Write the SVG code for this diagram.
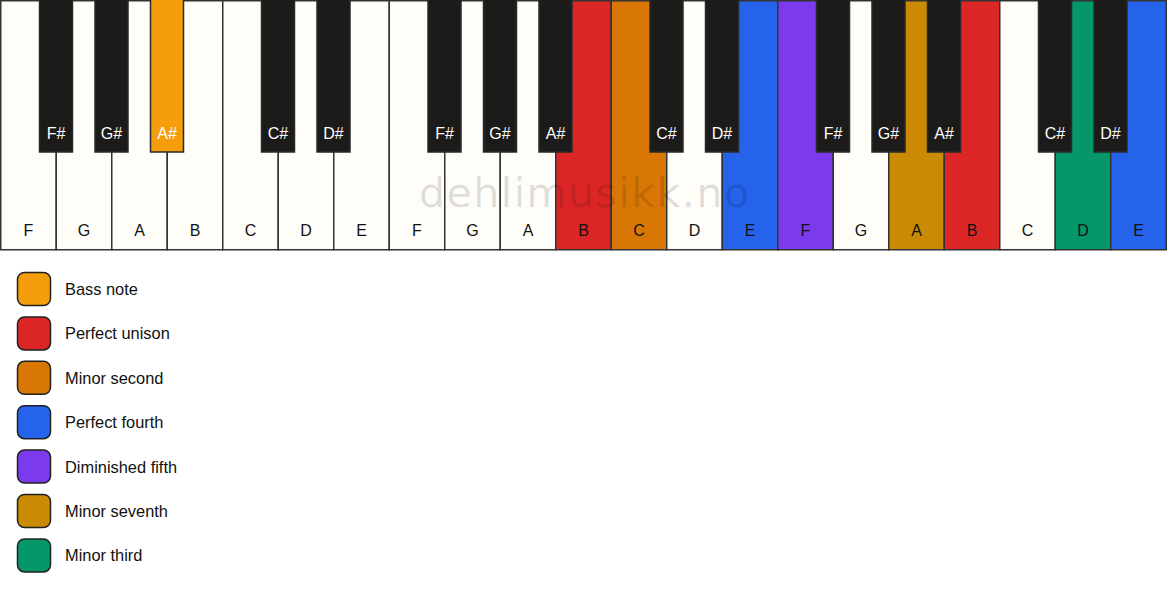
<svg xmlns="http://www.w3.org/2000/svg" width="1167" height="594" viewBox="0 0 1167 594">
<style>
.w{stroke:#333;stroke-width:1.5}
.b{stroke:#2a2a2a;stroke-width:1.5}
.wl{font-family:"Liberation Sans",Arial,sans-serif;font-size:16px;fill:#111;text-anchor:middle}
.bl{font-family:"Liberation Sans",Arial,sans-serif;font-size:16px;fill:#fff;text-anchor:middle}
.lg{stroke:#222;stroke-width:1.5}
.lt{font-family:"Liberation Sans",Arial,sans-serif;font-size:16.4px;fill:#111}
.wm{font-family:"DejaVu Sans","Liberation Sans",sans-serif;font-size:41px;fill:#000;fill-opacity:0.13}
</style>
<rect width="1167" height="594" fill="#fff"/>
<g id="white-keys">
<g id="wk0"><rect class="w" x="0.75" y="0.75" width="55.5" height="249" fill="#FFFDF8"/><text class="wl" x="28.5" y="236">F</text></g>
<g id="wk1"><rect class="w" x="56.25" y="0.75" width="55.5" height="249" fill="#FFFDF8"/><text class="wl" x="84" y="236">G</text></g>
<g id="wk2"><rect class="w" x="111.75" y="0.75" width="55.5" height="249" fill="#FFFDF8"/><text class="wl" x="139.5" y="236">A</text></g>
<g id="wk3"><rect class="w" x="167.25" y="0.75" width="55.5" height="249" fill="#FFFDF8"/><text class="wl" x="195" y="236">B</text></g>
<g id="wk4"><rect class="w" x="222.75" y="0.75" width="55.5" height="249" fill="#FFFDF8"/><text class="wl" x="250.5" y="236">C</text></g>
<g id="wk5"><rect class="w" x="278.25" y="0.75" width="55.5" height="249" fill="#FFFDF8"/><text class="wl" x="306" y="236">D</text></g>
<g id="wk6"><rect class="w" x="333.75" y="0.75" width="55.5" height="249" fill="#FFFDF8"/><text class="wl" x="361.5" y="236">E</text></g>
<g id="wk7"><rect class="w" x="389.25" y="0.75" width="55.5" height="249" fill="#FFFDF8"/><text class="wl" x="417" y="236">F</text></g>
<g id="wk8"><rect class="w" x="444.75" y="0.75" width="55.5" height="249" fill="#FFFDF8"/><text class="wl" x="472.5" y="236">G</text></g>
<g id="wk9"><rect class="w" x="500.25" y="0.75" width="55.5" height="249" fill="#FFFDF8"/><text class="wl" x="528" y="236">A</text></g>
<g id="wk10"><rect class="w" x="555.75" y="0.75" width="55.5" height="249" fill="#DC2626"/><text class="wl" x="583.5" y="236">B</text></g>
<g id="wk11"><rect class="w" x="611.25" y="0.75" width="55.5" height="249" fill="#D97706"/><text class="wl" x="639" y="236">C</text></g>
<g id="wk12"><rect class="w" x="666.75" y="0.75" width="55.5" height="249" fill="#FFFDF8"/><text class="wl" x="694.5" y="236">D</text></g>
<g id="wk13"><rect class="w" x="722.25" y="0.75" width="55.5" height="249" fill="#2563EB"/><text class="wl" x="750" y="236">E</text></g>
<g id="wk14"><rect class="w" x="777.75" y="0.75" width="55.5" height="249" fill="#7C3AED"/><text class="wl" x="805.5" y="236">F</text></g>
<g id="wk15"><rect class="w" x="833.25" y="0.75" width="55.5" height="249" fill="#FFFDF8"/><text class="wl" x="861" y="236">G</text></g>
<g id="wk16"><rect class="w" x="888.75" y="0.75" width="55.5" height="249" fill="#CA8A04"/><text class="wl" x="916.5" y="236">A</text></g>
<g id="wk17"><rect class="w" x="944.25" y="0.75" width="55.5" height="249" fill="#DC2626"/><text class="wl" x="972" y="236">B</text></g>
<g id="wk18"><rect class="w" x="999.75" y="0.75" width="55.5" height="249" fill="#FFFDF8"/><text class="wl" x="1027.5" y="236">C</text></g>
<g id="wk19"><rect class="w" x="1055.25" y="0.75" width="55.5" height="249" fill="#059669"/><text class="wl" x="1083" y="236">D</text></g>
<g id="wk20"><rect class="w" x="1110.75" y="0.75" width="55.5" height="249" fill="#2563EB"/><text class="wl" x="1138.5" y="236">E</text></g>
</g>
<text class="wm" x="419" y="207" textLength="330" lengthAdjust="spacing">dehlimusikk.no</text>
<g id="black-keys">
<g id="bk0"><rect class="b" x="39.5" y="-1" width="33" height="153" fill="#1C1B19"/><text class="bl" x="56" y="139">F#</text></g>
<g id="bk1"><rect class="b" x="95" y="-1" width="33" height="153" fill="#1C1B19"/><text class="bl" x="111.5" y="139">G#</text></g>
<g id="bk2"><rect class="b" x="150.5" y="-1" width="33" height="153" fill="#F59E0B"/><text class="bl" x="167" y="139">A#</text></g>
<g id="bk4"><rect class="b" x="261.5" y="-1" width="33" height="153" fill="#1C1B19"/><text class="bl" x="278" y="139">C#</text></g>
<g id="bk5"><rect class="b" x="317" y="-1" width="33" height="153" fill="#1C1B19"/><text class="bl" x="333.5" y="139">D#</text></g>
<g id="bk7"><rect class="b" x="428" y="-1" width="33" height="153" fill="#1C1B19"/><text class="bl" x="444.5" y="139">F#</text></g>
<g id="bk8"><rect class="b" x="483.5" y="-1" width="33" height="153" fill="#1C1B19"/><text class="bl" x="500" y="139">G#</text></g>
<g id="bk9"><rect class="b" x="539" y="-1" width="33" height="153" fill="#1C1B19"/><text class="bl" x="555.5" y="139">A#</text></g>
<g id="bk11"><rect class="b" x="650" y="-1" width="33" height="153" fill="#1C1B19"/><text class="bl" x="666.5" y="139">C#</text></g>
<g id="bk12"><rect class="b" x="705.5" y="-1" width="33" height="153" fill="#1C1B19"/><text class="bl" x="722" y="139">D#</text></g>
<g id="bk14"><rect class="b" x="816.5" y="-1" width="33" height="153" fill="#1C1B19"/><text class="bl" x="833" y="139">F#</text></g>
<g id="bk15"><rect class="b" x="872" y="-1" width="33" height="153" fill="#1C1B19"/><text class="bl" x="888.5" y="139">G#</text></g>
<g id="bk16"><rect class="b" x="927.5" y="-1" width="33" height="153" fill="#1C1B19"/><text class="bl" x="944" y="139">A#</text></g>
<g id="bk18"><rect class="b" x="1038.5" y="-1" width="33" height="153" fill="#1C1B19"/><text class="bl" x="1055" y="139">C#</text></g>
<g id="bk19"><rect class="b" x="1094" y="-1" width="33" height="153" fill="#1C1B19"/><text class="bl" x="1110.5" y="139">D#</text></g>
</g>
<g id="legend">
<g id="lg-bass"><rect class="lg" x="17.5" y="272.5" width="33" height="33" rx="7" fill="#F59E0B"/><text class="lt" x="65" y="295">Bass note</text></g>
<g id="lg-unison"><rect class="lg" x="17.5" y="316.9" width="33" height="33" rx="7" fill="#DC2626"/><text class="lt" x="65" y="339.4">Perfect unison</text></g>
<g id="lg-minor2"><rect class="lg" x="17.5" y="361.3" width="33" height="33" rx="7" fill="#D97706"/><text class="lt" x="65" y="383.8">Minor second</text></g>
<g id="lg-p4"><rect class="lg" x="17.5" y="405.7" width="33" height="33" rx="7" fill="#2563EB"/><text class="lt" x="65" y="428.2">Perfect fourth</text></g>
<g id="lg-d5"><rect class="lg" x="17.5" y="450.1" width="33" height="33" rx="7" fill="#7C3AED"/><text class="lt" x="65" y="472.6">Diminished fifth</text></g>
<g id="lg-m7"><rect class="lg" x="17.5" y="494.5" width="33" height="33" rx="7" fill="#CA8A04"/><text class="lt" x="65" y="517">Minor seventh</text></g>
<g id="lg-m3"><rect class="lg" x="17.5" y="538.9" width="33" height="33" rx="7" fill="#059669"/><text class="lt" x="65" y="561.4">Minor third</text></g>
</g>
<g id="connectors"/>
</svg>
